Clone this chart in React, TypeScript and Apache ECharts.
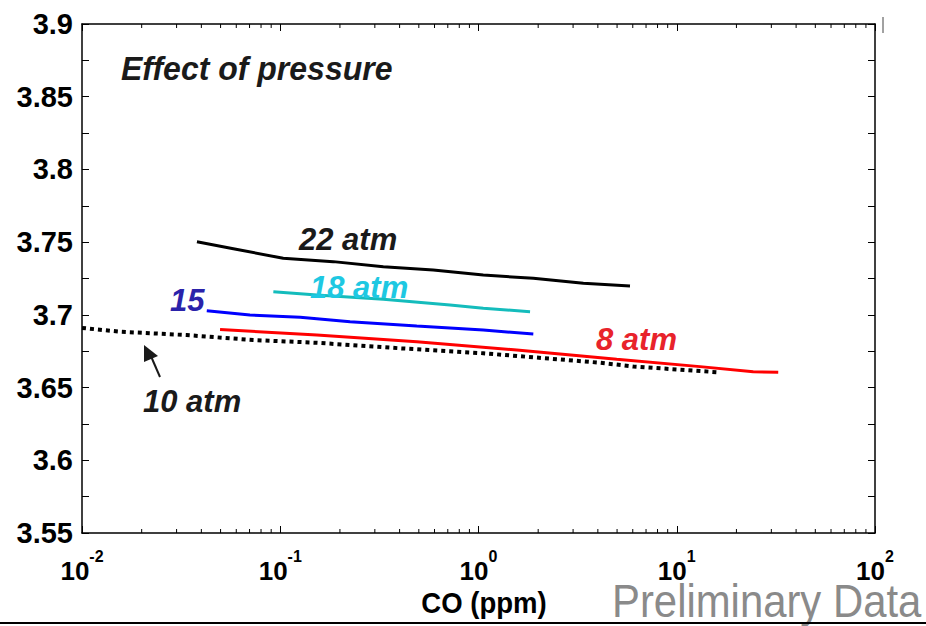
import React, { useEffect, useRef } from "react";
import * as echarts from "echarts";

// CO concentration (ppm) and lattice value for each pressure
const co22 = [0.038, 0.058, 0.1035, 0.185, 0.331, 0.591, 1.057, 1.89, 3.38, 5.81];
const v22 = [3.7503, 3.7455, 3.7389, 3.7366, 3.7331, 3.7308, 3.7274, 3.7251, 3.7217, 3.7198];

const co18 = [0.0923, 0.153, 0.331, 0.718, 1.057, 1.82];
const v18 = [3.7159, 3.7136, 3.7107, 3.7068, 3.7045, 3.7022];

const co15 = [0.0426, 0.0703, 0.126, 0.225, 0.488, 1.057, 1.89];
const v15 = [3.7029, 3.6999, 3.6983, 3.6953, 3.6923, 3.6896, 3.6868];

const co8 = [0.0497, 0.153, 0.488, 1.56, 4.98, 13.1, 24.3, 32.5];
const v8 = [3.69, 3.6861, 3.6815, 3.6758, 3.6694, 3.6644, 3.6609, 3.6605];

const co10 = [0.01, 0.0156, 0.0337, 0.073, 0.153, 0.402, 1.057, 4.1, 6.04, 16.2];
const v10 = [3.691, 3.6884, 3.6861, 3.6827, 3.6808, 3.677, 3.6736, 3.6671, 3.6645, 3.6605];

const minorTicksX = [2, 3, 4, 5, 6, 7, 8, 9].flatMap((k) => [-2, -1, 0, 1].map((d) => k * Math.pow(10, d)));

const FONT = '"Liberation Sans", Arial, sans-serif';

const pairs = (xs: number[], ys: number[]) => xs.map((x, i) => [x, ys[i]]);

export default function App() {
  const ref = useRef<HTMLDivElement>(null);
  useEffect(() => {
    const chart = echarts.init(ref.current!, null, { renderer: "svg" });
    const lineSeries = (name: string, xs: number[], ys: number[], color: string, type: any = "solid", width = 3) => ({
      name,
      type: "line",
      data: pairs(xs, ys),
      showSymbol: false,
      symbol: "none",
      lineStyle: { color, width, type },
      xAxisIndex: 0,
      yAxisIndex: 0,
      z: 3,
    });
    const txt = (text: string, x: number, y: number, fill: string, fontSize: number, scaleX = 1) => ({
      type: "text",
      x,
      y,
      scaleX,
      style: {
        text,
        fill,
        fontSize,
        fontFamily: FONT,
        fontWeight: "bold",
        fontStyle: "italic",
        align: "left",
        verticalAlign: "middle",
      },
      z: 10,
    });
    chart.setOption({
      animation: false,
      grid: { left: 82, right: 51, top: 24, bottom: 93 },
      xAxis: [
        {
          type: "log",
          logBase: 10,
          min: 0.01,
          max: 100,
          interval: 1,
          axisLine: { show: true, lineStyle: { color: "#000", width: 1.5 } },
          axisTick: { show: true, inside: true, length: 7, lineStyle: { color: "#000", width: 1 } },
          splitLine: { show: false },
          minorTick: { show: false },
          axisLabel: {
            margin: 21,
            formatter: (v: number) => `{b|10}{s|${Math.round(Math.log10(v))}}`,
            rich: {
              b: { fontSize: 26, fontWeight: "bold", fontFamily: FONT, color: "#000", lineHeight: 30, verticalAlign: "bottom" },
              s: { fontSize: 16, fontWeight: "bold", fontFamily: FONT, color: "#000", lineHeight: 14, padding: [0, 0, 20, 0], verticalAlign: "bottom" },
            },
          },
        },
        {
          type: "log",
          logBase: 10,
          min: 0.01,
          max: 100,
          interval: 1,
          position: "top",
          axisLine: { show: true, lineStyle: { color: "#000", width: 1.5 } },
          axisTick: { show: true, inside: true, length: 7, lineStyle: { color: "#000", width: 1 } },
          axisLabel: { show: false },
          splitLine: { show: false },
        },
      ],
      yAxis: [
        {
          type: "value",
          min: 3.55,
          max: 3.9,
          interval: 0.05,
          axisLine: { show: true, lineStyle: { color: "#000", width: 1.5 } },
          axisTick: { show: true, inside: true, length: 7, lineStyle: { color: "#000", width: 1 } },
          minorTick: { show: true, splitNumber: 2, length: 7, lineStyle: { color: "#000", width: 1 } },
          splitLine: { show: false },
          minorSplitLine: { show: false },
          axisLabel: {
            margin: 9,
            fontSize: 29,
            fontWeight: "bold",
            fontFamily: FONT,
            color: "#000",
            formatter: (v: number) => String(parseFloat(v.toFixed(2))),
          },
        },
        {
          type: "value",
          min: 3.55,
          max: 3.9,
          interval: 0.05,
          position: "right",
          axisLine: { show: true, lineStyle: { color: "#000", width: 1.5 } },
          axisTick: { show: true, inside: true, length: 7, lineStyle: { color: "#000", width: 1 } },
          minorTick: { show: true, splitNumber: 2, length: 7, lineStyle: { color: "#000", width: 1 } },
          splitLine: { show: false },
          axisLabel: { show: false },
        },
      ],
      series: [
        lineSeries("10 atm", co10, v10, "#000", [4, 4], 4),
        lineSeries("8 atm", co8, v8, "#ff0000"),
        lineSeries("15 atm", co15, v15, "#0000ff"),
        lineSeries("18 atm", co18, v18, "#14bcbc"),
        lineSeries("22 atm", co22, v22, "#000"),
        {
          type: "custom",
          data: minorTicksX.map((v) => [v, 3.55]),
          xAxisIndex: 0,
          yAxisIndex: 0,
          silent: true,
          renderItem: (params: any, api: any) => {
            const x = api.value(0);
            const b = api.coord([x, 3.55]);
            const t = api.coord([x, 3.9]);
            return {
              type: "group",
              children: [
                { type: "line", shape: { x1: b[0], y1: b[1], x2: b[0], y2: b[1] - 4 }, style: { stroke: "#000", lineWidth: 1 } },
                { type: "line", shape: { x1: t[0], y1: t[1], x2: t[0], y2: t[1] + 4 }, style: { stroke: "#000", lineWidth: 1 } },
              ],
            };
          },
        },
      ],
      graphic: [
        txt("Effect of pressure", 121, 69, "#1a1a1a", 33, 0.97),
        txt("22 atm", 299, 239, "#1a1a1a", 31),
        txt("18 atm", 310, 287, "#1ec8e2", 31),
        txt("15", 170, 300, "#2a22aa", 31),
        txt("8 atm", 596, 339, "#e8232b", 31),
        txt("10 atm", 143, 401, "#1a1a1a", 31),
        {
          type: "line",
          shape: { x1: 160, y1: 377, x2: 150, y2: 354 },
          style: { stroke: "#1a1a1a", lineWidth: 2 },
          z: 10,
        },
        {
          type: "polygon",
          shape: { points: [[144, 345], [144, 362], [158, 356]] },
          style: { fill: "#1a1a1a" },
          z: 10,
        },
        {
          type: "text",
          x: 484,
          y: 603,
          scaleX: 0.95,
          style: { text: "CO (ppm)", fill: "#000", fontSize: 29, fontWeight: "bold", fontFamily: FONT, align: "center", verticalAlign: "middle" },
          z: 10,
        },
        {
          type: "text",
          x: 612,
          y: 601,
          scaleX: 0.91,
          style: { text: "Preliminary Data", fill: "#8a8a8a", fontSize: 46, lineHeight: 36, fontFamily: FONT, align: "left", verticalAlign: "middle" },
          z: 10,
        },
        {
          type: "line",
          shape: { x1: 0, y1: 623, x2: 926, y2: 623 },
          style: { stroke: "#000", lineWidth: 2 },
          z: 10,
        },
        {
          type: "line",
          shape: { x1: 883, y1: 17, x2: 883, y2: 33 },
          style: { stroke: "#444", lineWidth: 1 },
          z: 10,
        },
      ],
    });
    return () => chart.dispose();
  }, []);
  return <div ref={ref} style={{ position: "fixed", left: 0, top: 0, width: 926, height: 626, background: "#fff" }} />;
}
